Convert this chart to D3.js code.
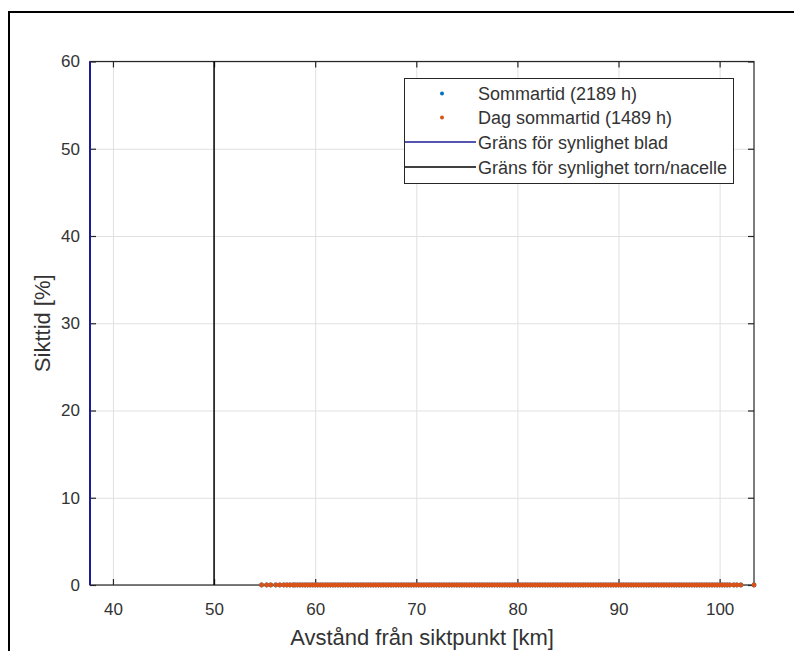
<!DOCTYPE html>
<html><head><meta charset="utf-8">
<script src="https://cdn.jsdelivr.net/npm/d3@7"></script>
<style>
body{margin:0;background:#fff}
text{font-family:"Liberation Sans",Arial,sans-serif;fill:#333333}
</style>
</head><body>
<svg id="chart" width="794" height="651"></svg>
<script>
// ---------- data ----------
const xTicks = [40, 50, 60, 70, 80, 90, 100];
const yTicks = [0, 10, 20, 30, 40, 50, 60];
const xDomain = [37.73, 103.4];
const yDomain = [0, 60];
const bladLimit = 37.73;   // Gräns för synlighet blad [km]
const tornLimit = 50;      // Gräns för synlighet torn/nacelle [km]
const xLabel = "Avstånd från siktpunkt [km]";
const yLabel = "Sikttid [%]";
const legendLabels = ["Sommartid (2189 h)", "Dag sommartid (1489 h)", "Gräns för synlighet blad", "Gräns för synlighet torn/nacelle"];

const distances = [
  54.7,55.2,55.6,56.1,56.5,56.9,57.2,57.5,57.8,
  58,58.25,58.5,58.75,59,59.25,59.5,59.75,
  60,60.25,60.5,60.75,61,61.25,61.5,61.75,62,62.25,62.5,62.75,63,63.25,63.5,63.75,64,64.25,64.5,64.75,65,65.25,65.5,65.75,66,66.25,66.5,66.75,67,67.25,67.5,67.75,68,68.25,68.5,68.75,69,69.25,69.5,69.75,
  70,70.25,70.5,70.75,71,71.25,71.5,71.75,72,72.25,72.5,72.75,73,73.25,73.5,73.75,74,74.25,74.5,74.75,75,75.25,75.5,75.75,76,76.25,76.5,76.75,77,77.25,77.5,77.75,78,78.25,78.5,78.75,79,79.25,79.5,79.75,
  80,80.25,80.5,80.75,81,81.25,81.5,81.75,82,82.25,82.5,82.75,83,83.25,83.5,83.75,84,84.25,84.5,84.75,85,85.25,85.5,85.75,86,86.25,86.5,86.75,87,87.25,87.5,87.75,88,88.25,88.5,88.75,89,89.25,89.5,89.75,
  90,90.25,90.5,90.75,91,91.25,91.5,91.75,92,92.25,92.5,92.75,93,93.25,93.5,93.75,94,94.25,94.5,94.75,95,95.25,95.5,95.75,96,96.25,96.5,96.75,97,97.25,97.5,97.75,98,98.25,98.5,98.75,99,99.25,99.5,99.75,
  100,100.25,100.5,100.75,101,
  101.4,101.7,102.1,103.4
];
const sommarValues = [
  0,0,0,0,0,0,0,0,0,
  0,0,0,0,0,0,0,0,
  0,0,0,0,0,0,0,0,0,0,0,0,0,0,0,0,0,0,0,0,0,0,0,0,0,0,0,0,0,0,0,0,0,0,0,0,0,0,0,0,
  0,0,0,0,0,0,0,0,0,0,0,0,0,0,0,0,0,0,0,0,0,0,0,0,0,0,0,0,0,0,0,0,0,0,0,0,0,0,0,0,
  0,0,0,0,0,0,0,0,0,0,0,0,0,0,0,0,0,0,0,0,0,0,0,0,0,0,0,0,0,0,0,0,0,0,0,0,0,0,0,0,
  0,0,0,0,0,0,0,0,0,0,0,0,0,0,0,0,0,0,0,0,0,0,0,0,0,0,0,0,0,0,0,0,0,0,0,0,0,0,0,0,
  0,0,0,0,0,
  0,0,0,0
];
const dagValues = [
  0,0,0,0,0,0,0,0,0,
  0,0,0,0,0,0,0,0,
  0,0,0,0,0,0,0,0,0,0,0,0,0,0,0,0,0,0,0,0,0,0,0,0,0,0,0,0,0,0,0,0,0,0,0,0,0,0,0,0,
  0,0,0,0,0,0,0,0,0,0,0,0,0,0,0,0,0,0,0,0,0,0,0,0,0,0,0,0,0,0,0,0,0,0,0,0,0,0,0,0,
  0,0,0,0,0,0,0,0,0,0,0,0,0,0,0,0,0,0,0,0,0,0,0,0,0,0,0,0,0,0,0,0,0,0,0,0,0,0,0,0,
  0,0,0,0,0,0,0,0,0,0,0,0,0,0,0,0,0,0,0,0,0,0,0,0,0,0,0,0,0,0,0,0,0,0,0,0,0,0,0,0,
  0,0,0,0,0,
  0,0,0,0
];

// ---------- styles ----------
const colSommar = "#0072BD", colDag = "#D95319", colBlad = "#1c1c96", colTorn = "#000000";
const axisCol = "#262626", textCol = "#333333", gridCol = "#e0e0e0";

const svg = d3.select("#chart");
const L = 90, T = 61.5, R = 754, B = 585;
const x = d3.scaleLinear().domain(xDomain).range([L, R]);
const y = d3.scaleLinear().domain(yDomain).range([B, T]);

// outer figure frame
svg.append("rect").attr("x", 9).attr("y", 12).attr("width", 820).attr("height", 700)
  .attr("fill", "none").attr("stroke", "#000").attr("stroke-width", 2);

// grid
const gx = svg.append("g").attr("transform", `translate(0,${B})`)
  .call(d3.axisBottom(x).tickValues(xTicks).tickSize(-(B - T)).tickFormat(""));
const gy = svg.append("g").attr("transform", `translate(${L},0)`)
  .call(d3.axisLeft(y).tickValues(yTicks).tickSize(-(R - L)).tickFormat(""));
[gx, gy].forEach(g => { g.select(".domain").remove(); g.selectAll("line").attr("stroke", gridCol).attr("stroke-width", 1); });

// axes box
svg.append("rect").attr("x", L).attr("y", T).attr("width", R - L).attr("height", B - T)
  .attr("fill", "none").attr("stroke", axisCol).attr("stroke-width", 1.2);

// inward ticks on all four sides
const tk = 6;
const tb = svg.append("g").attr("transform", `translate(0,${B})`).call(d3.axisBottom(x).tickValues(xTicks).tickSizeInner(-tk).tickSizeOuter(0).tickFormat(""));
const tt = svg.append("g").attr("transform", `translate(0,${T})`).call(d3.axisTop(x).tickValues(xTicks).tickSizeInner(-tk).tickSizeOuter(0).tickFormat(""));
const tl = svg.append("g").attr("transform", `translate(${L},0)`).call(d3.axisLeft(y).tickValues(yTicks).tickSizeInner(-tk).tickSizeOuter(0).tickFormat(""));
const tr = svg.append("g").attr("transform", `translate(${R},0)`).call(d3.axisRight(y).tickValues(yTicks).tickSizeInner(-tk).tickSizeOuter(0).tickFormat(""));
[tb, tt, tl, tr].forEach(g => { g.select(".domain").remove(); g.selectAll("line").attr("stroke", axisCol).attr("stroke-width", 1.2); });

// tick labels
const lb = svg.append("g").attr("transform", `translate(0,${B})`)
  .call(d3.axisBottom(x).tickValues(xTicks).tickSize(0).tickPadding(18));
const ll = svg.append("g").attr("transform", `translate(${L},0)`)
  .call(d3.axisLeft(y).tickValues(yTicks).tickSize(0).tickPadding(10));
[lb, ll].forEach(g => {
  g.select(".domain").remove();
  g.selectAll("text").attr("font-family", '"Liberation Sans",Arial,sans-serif').attr("font-size", 17).attr("fill", textCol);
});

// axis labels
svg.append("text").attr("x", (L + R) / 2).attr("y", 645).attr("text-anchor", "middle")
  .attr("font-size", 22).text(xLabel);
svg.append("text").attr("transform", `translate(50,${(T + B) / 2}) rotate(-90)`).attr("text-anchor", "middle")
  .attr("font-size", 22).text(yLabel);

// limit lines
svg.append("line").attr("x1", x(bladLimit)).attr("x2", x(bladLimit)).attr("y1", y(0)).attr("y2", y(60))
  .attr("stroke", colBlad).attr("stroke-width", 2);
svg.append("line").attr("x1", x(tornLimit)).attr("x2", x(tornLimit)).attr("y1", y(0)).attr("y2", y(60))
  .attr("stroke", colTorn).attr("stroke-width", 1.5);

// points
svg.append("g").selectAll("circle").data(distances.map((d, i) => [d, sommarValues[i]])).join("circle")
  .attr("cx", d => x(d[0])).attr("cy", d => y(d[1])).attr("r", 2.4).attr("fill", colSommar);
svg.append("g").selectAll("circle").data(distances.map((d, i) => [d, dagValues[i]])).join("circle")
  .attr("cx", d => x(d[0])).attr("cy", d => y(d[1])).attr("r", 2.4).attr("fill", colDag);

// legend
const lg = svg.append("g");
lg.append("rect").attr("x", 404.5).attr("y", 78.5).attr("width", 329).attr("height", 105)
  .attr("fill", "#fff").attr("stroke", axisCol).attr("stroke-width", 1);
const rows = [93.5, 117.5, 142, 167];
lg.append("circle").attr("cx", 442).attr("cy", rows[0]).attr("r", 2).attr("fill", colSommar);
lg.append("circle").attr("cx", 442).attr("cy", rows[1]).attr("r", 2).attr("fill", colDag);
lg.append("line").attr("x1", 405).attr("x2", 476).attr("y1", rows[2]).attr("y2", rows[2]).attr("stroke", colBlad).attr("stroke-width", 1.5);
lg.append("line").attr("x1", 405).attr("x2", 476).attr("y1", rows[3]).attr("y2", rows[3]).attr("stroke", colTorn).attr("stroke-width", 1.5);
legendLabels.forEach((t, i) => {
  lg.append("text").attr("x", 478).attr("y", rows[i] + 6.5).attr("font-size", 18).text(t);
});
</script>
</body></html>
